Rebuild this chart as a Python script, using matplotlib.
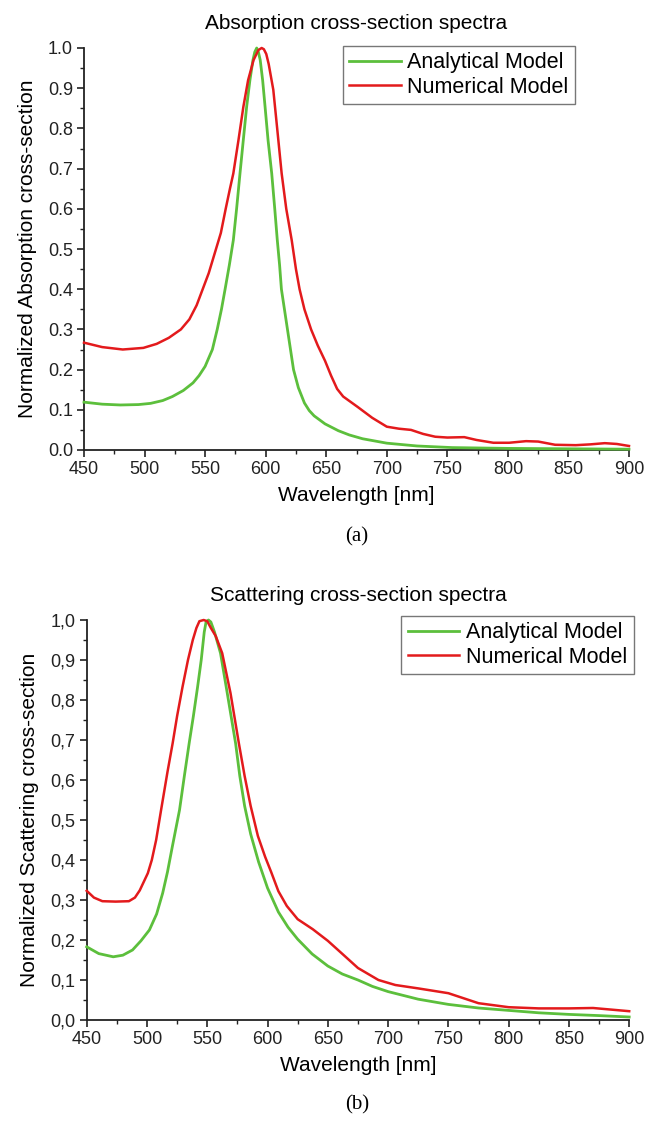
"""
Normalized absorption and scattering cross-section spectra,
analytical vs numerical model
"""
import matplotlib
matplotlib.use('Agg')
import matplotlib.pyplot as plt
from matplotlib.ticker import MultipleLocator, FuncFormatter

# (a) absorption, analytical model
abs_ana_wl = [450, 465, 480, 495, 505, 515, 523, 532, 540, 545, 550, 556, 560, 563.5, 566.5,
              570, 573.3, 576, 578.8, 581.5, 584.3, 587, 589.5, 591, 592.6, 594, 595.5, 597.5,
              599.5, 602, 605, 607.5, 609.6, 611.5, 613, 615.5, 618, 620.5, 623, 627, 632, 636,
              640, 649, 660, 669, 680, 700, 725, 754, 800, 850, 900]
abs_ana = [0.119, 0.114, 0.112, 0.113, 0.116, 0.123, 0.133, 0.148, 0.167, 0.185, 0.208, 0.25,
           0.3, 0.35, 0.4, 0.46, 0.522, 0.6, 0.688, 0.77, 0.854, 0.92, 0.97, 0.99, 1.0, 0.99,
           0.97, 0.92, 0.854, 0.77, 0.688, 0.6, 0.522, 0.46, 0.4, 0.35, 0.3, 0.25, 0.2, 0.155,
           0.117, 0.098, 0.085, 0.065, 0.048, 0.0375, 0.028, 0.017, 0.01, 0.006, 0.004, 0.003,
           0.002]

# (a) absorption, numerical model
abs_num_wl = [450, 465, 482, 499, 510, 520, 530, 537, 543, 548, 553, 558, 563, 567, 570.5,
              573.3, 577.5, 581.6, 585.5, 590, 594, 596.7, 598.5, 600.5, 602.5, 606.3, 609.5,
              613.2, 617, 621.5, 625, 628, 632, 637.5, 643, 649, 654, 659, 664, 670, 676, 688,
              700, 710, 720, 730, 740, 750, 764, 774, 788, 801, 815, 825, 839, 856, 868, 880,
              890, 900]
abs_num = [0.267, 0.256, 0.25, 0.254, 0.264, 0.279, 0.3, 0.325, 0.36, 0.4, 0.44, 0.49, 0.54,
           0.6, 0.65, 0.688, 0.77, 0.854, 0.92, 0.97, 0.995, 1.0, 0.997, 0.985, 0.96, 0.896, 0.8,
           0.688, 0.6, 0.522, 0.45, 0.4, 0.35, 0.3, 0.26, 0.222, 0.185, 0.152, 0.133, 0.12,
           0.107, 0.08, 0.058, 0.053, 0.05, 0.04, 0.033, 0.031, 0.032, 0.025, 0.018, 0.018,
           0.022, 0.021, 0.013, 0.012, 0.014, 0.017, 0.015, 0.01]

# (b) scattering, analytical model
sca_ana_wl = [450, 460, 472, 480, 488, 495, 502, 508, 513, 517, 521, 527, 531, 535, 538.5, 542,
              545, 547.5, 549, 551, 553, 556, 561, 566.6, 573.5, 577, 581, 586, 592.6, 600, 609,
              617, 625, 637, 650, 662, 675, 687, 700, 725, 750, 775, 800, 825, 850, 875, 900]
sca_ana = [0.183, 0.166, 0.158, 0.162, 0.175, 0.198, 0.225, 0.265, 0.317, 0.37, 0.433, 0.525,
           0.61, 0.692, 0.76, 0.833, 0.9, 0.97, 0.995, 1.0, 0.995, 0.97, 0.917, 0.817, 0.692,
           0.61, 0.535, 0.465, 0.395, 0.33, 0.27, 0.232, 0.202, 0.165, 0.135, 0.115, 0.1, 0.084,
           0.071, 0.052, 0.039, 0.03, 0.024, 0.018, 0.014, 0.011, 0.0075]

# (b) scattering, numerical model
sca_num_wl = [450, 456, 463, 474, 485, 490, 494, 500.7, 504, 507.6, 511.7, 517, 521.3, 525,
              529.5, 534, 538, 541, 543.5, 547, 550, 553, 557, 562.4, 569.3, 576.2, 581, 586,
              592, 598, 603, 609, 616, 625, 637.5, 650, 664, 675, 692, 706, 725, 750, 763, 775,
              800, 825, 850, 870, 900]
sca_num = [0.323, 0.306, 0.297, 0.296, 0.297, 0.306, 0.324, 0.367, 0.4, 0.45, 0.525, 0.62,
           0.692, 0.76, 0.833, 0.9, 0.95, 0.98, 0.997, 1.0, 0.997, 0.98, 0.96, 0.917, 0.817,
           0.692, 0.61, 0.535, 0.46, 0.408, 0.37, 0.322, 0.285, 0.252, 0.227, 0.198, 0.16, 0.13,
           0.1, 0.0875, 0.079, 0.067, 0.054, 0.042, 0.032, 0.029, 0.029, 0.03, 0.022]

GREEN = '#5cbf3c'
RED = '#e31a1c'
FONT = 'Liberation Sans'


def style_axes(ax, comma):
	ax.set_xlim(450, 900)
	ax.set_ylim(0, 1.0)
	ax.xaxis.set_major_locator(MultipleLocator(50))
	ax.xaxis.set_minor_locator(MultipleLocator(25))
	ax.yaxis.set_major_locator(MultipleLocator(0.1))
	ax.yaxis.set_minor_locator(MultipleLocator(0.05))
	if comma:
		ax.yaxis.set_major_formatter(FuncFormatter(lambda v, p: f'{v:.1f}'.replace('.', ',')))
	else:
		ax.yaxis.set_major_formatter(FuncFormatter(lambda v, p: f'{v:.1f}'))
	for side in ['top', 'right']:
		ax.spines[side].set_visible(False)
	for side in ['left', 'bottom']:
		ax.spines[side].set_linewidth(1.3)
		ax.spines[side].set_color('#222222')
	ax.tick_params(which='major', direction='out', length=5, width=1.2, labelsize=13,
				   colors='#222222', pad=3)
	ax.tick_params(which='minor', direction='out', length=3, width=1.0, colors='#222222')
	for lab in ax.get_xticklabels() + ax.get_yticklabels():
		lab.set_fontfamily(FONT)


def draw_panel(ax, wl_ana, ana, wl_num, num, title, ylabel, comma):
	ax.plot(wl_ana, ana, color=GREEN, lw=2.0, label='Analytical Model', clip_on=False, zorder=3)
	ax.plot(wl_num, num, color=RED, lw=1.8, label='Numerical Model', clip_on=False, zorder=4)
	style_axes(ax, comma)
	ax.set_title(title, fontsize=15, fontfamily=FONT, pad=14)
	ax.set_xlabel('Wavelength [nm]', fontsize=15, fontfamily=FONT, labelpad=6)
	ax.set_ylabel(ylabel, fontsize=15, fontfamily=FONT, labelpad=8)


def add_legend(ax, anchor):
	leg = ax.legend(loc='upper left', bbox_to_anchor=anchor, prop={'family': FONT, 'size': 15.5},
					frameon=True, fancybox=False, edgecolor='#555555', handlelength=2.4,
					handletextpad=0.3, borderpad=0.3, labelspacing=0.15, borderaxespad=0)
	leg.get_frame().set_linewidth(1.0)


def main():
	fig = plt.figure(figsize=(6.45, 11.22), dpi=100)

	# Panel (a)
	ax1 = fig.add_axes([84 / 645, 1 - 450 / 1122, 545 / 645, 402 / 1122])
	draw_panel(ax1, abs_ana_wl, abs_ana, abs_num_wl, abs_num,
			   'Absorption cross-section spectra', 'Normalized Absorption cross-section', False)
	add_legend(ax1, (0.475, 1.005))

	# Panel (b)
	ax2 = fig.add_axes([86.7 / 645, 1 - 1020 / 1122, 542.5 / 645, 400 / 1122])
	draw_panel(ax2, sca_ana_wl, sca_ana, sca_num_wl, sca_num,
			   'Scattering cross-section spectra', 'Normalized Scattering cross-section', True)
	add_legend(ax2, (0.58, 1.01))

	# Captions
	fig.text(357 / 645, 1 - 537 / 1122, '(a)', ha='center', va='center', fontsize=15,
			 fontfamily='Liberation Serif')
	fig.text(357 / 645, 1 - 1105 / 1122, '(b)', ha='center', va='center', fontsize=15,
			 fontfamily='Liberation Serif')

	fig.savefig('out.png', dpi=100)


if __name__ == '__main__':
	main()
